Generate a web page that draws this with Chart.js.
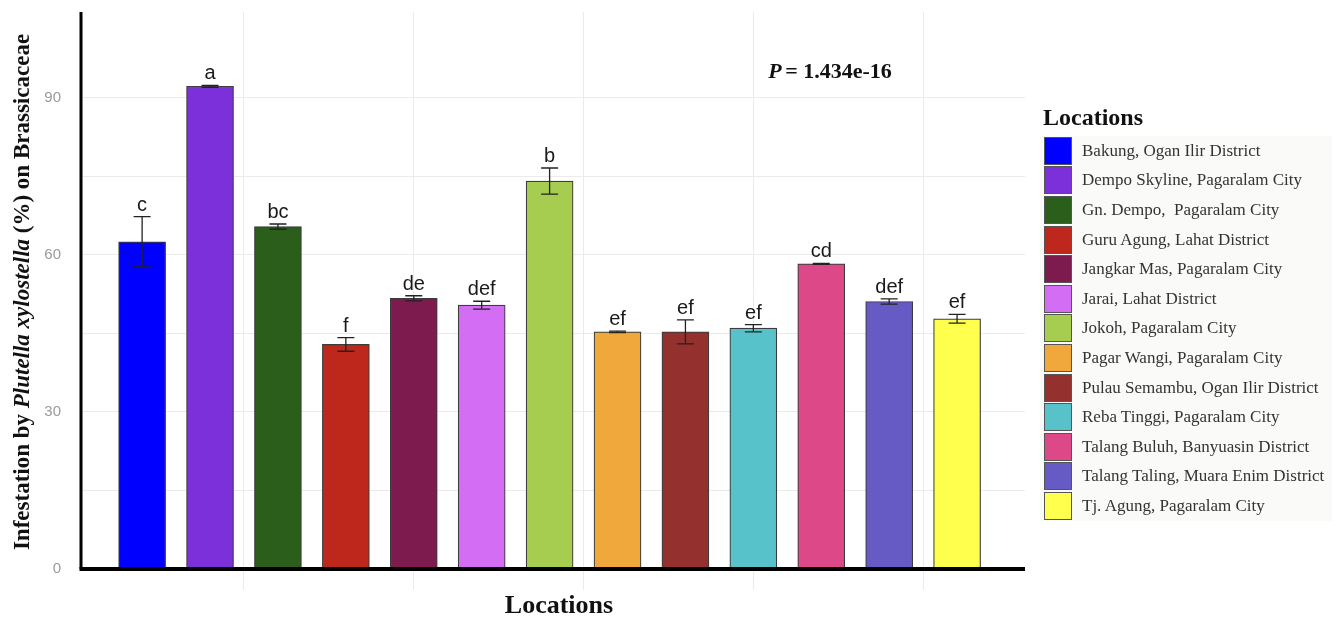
<!DOCTYPE html>
<html>
<head>
<meta charset="utf-8">
<script src="https://cdn.jsdelivr.net/npm/chart.js@4.4.0/dist/chart.umd.min.js"></script>
<style>
  html, body { margin: 0; padding: 0; background: #fff; }
  #wrap { position: relative; width: 1343px; height: 617px; }
  #legend { position: absolute; left: 1040px; top: 102px; font-family: "Liberation Serif", "Times New Roman", serif; color: #333; }
  #legend .ttl { font-weight: bold; font-size: 24px; color: #111; padding-left: 3px; height: 34px; line-height: 30px; }
  #legend .rows { background: #fafaf8; padding-right: 8px; }
  #legend .row { display: flex; align-items: center; height: 29.6px; }
  #legend .box { width: 26px; height: 26px; border: 1.5px solid #555; margin-left: 4px; margin-right: 10px; }
  #legend .lbl { font-size: 17px; white-space: pre; }
</style>
</head>
<body>
<div id="wrap">
  <canvas id="chart" width="1343" height="617"></canvas>
  <div id="legend"></div>
</div>
<script>
// values
const locations = [
  "Bakung, Ogan Ilir District",
  "Dempo Skyline, Pagaralam City",
  "Gn. Dempo,  Pagaralam City",
  "Guru Agung, Lahat District",
  "Jangkar Mas, Pagaralam City",
  "Jarai, Lahat District",
  "Jokoh, Pagaralam City",
  "Pagar Wangi, Pagaralam City",
  "Pulau Semambu, Ogan Ilir District",
  "Reba Tinggi, Pagaralam City",
  "Talang Buluh, Banyuasin District",
  "Talang Taling, Muara Enim District",
  "Tj. Agung, Pagaralam City"
];
const infestation = [62.5, 92.2, 65.4, 42.9, 51.7, 50.4, 74.1, 45.3, 45.3, 46.0, 58.3, 51.1, 47.8];
const stdErr = [4.8, 0.2, 0.5, 1.3, 0.5, 0.75, 2.5, 0.15, 2.3, 0.7, 0.1, 0.5, 0.85];
const groupLetters = ["c", "a", "bc", "f", "de", "def", "b", "ef", "ef", "ef", "cd", "def", "ef"];
const barColors = ["#0000fe", "#7b30d9", "#2b5e1b", "#bd271c", "#7d1a4e", "#d36df3", "#a6cc50",
                   "#f0a83c", "#94312e", "#58c2cb", "#dc4888", "#665bc4", "#ffff4e"];
const pValue = "1.434e-16";

// legend
const legend = document.getElementById("legend");
let html = '<div class="ttl">Locations</div><div class="rows">';
locations.forEach((name, i) => {
  html += '<div class="row"><div class="box" style="background:' + barColors[i] + '"></div><div class="lbl">' + name + '</div></div>';
});
legend.innerHTML = html + "</div>";

const serif = "'Liberation Serif', 'Times New Roman', serif";

const extras = {
  id: "extras",
  afterDatasetsDraw(chart) {
    const { ctx, chartArea } = chart;
    const xs = chart.scales.x, ys = chart.scales.y;
    ctx.save();
    // axis lines over the bar bases
    ctx.strokeStyle = "#000";
    ctx.lineWidth = 4;
    ctx.beginPath();
    ctx.moveTo(chartArea.left - 1.5, chartArea.bottom);
    ctx.lineTo(chartArea.right, chartArea.bottom);
    ctx.stroke();
    ctx.lineWidth = 3;
    ctx.beginPath();
    ctx.moveTo(chartArea.left, chartArea.top);
    ctx.lineTo(chartArea.left, chartArea.bottom);
    ctx.stroke();

    // error bars + letters
    ctx.strokeStyle = "#222";
    ctx.lineWidth = 1.3;
    ctx.fillStyle = "#1a1a1a";
    ctx.font = "20px 'Liberation Sans', Arial, sans-serif";
    ctx.textAlign = "center";
    ctx.textBaseline = "alphabetic";
    infestation.forEach((v, i) => {
      const x = xs.getPixelForValue(i + 1);
      const yt = ys.getPixelForValue(v + stdErr[i]);
      const yb = ys.getPixelForValue(v - stdErr[i]);
      ctx.beginPath();
      ctx.moveTo(x, yt); ctx.lineTo(x, yb);
      ctx.moveTo(x - 8.5, yt); ctx.lineTo(x + 8.5, yt);
      ctx.moveTo(x - 8.5, yb); ctx.lineTo(x + 8.5, yb);
      ctx.stroke();
      ctx.fillText(groupLetters[i], x, yt - 6);
    });

    // P value
    ctx.fillStyle = "#111";
    ctx.textAlign = "left";
    ctx.textBaseline = "middle";
    const px = xs.getPixelForValue(10.22), py = ys.getPixelForValue(94.8);
    ctx.font = "italic bold 22px " + serif;
    ctx.fillText("P", px, py);
    const pw = ctx.measureText("P").width;
    ctx.font = "bold 22px " + serif;
    ctx.fillText(" = " + pValue, px + pw - 2, py);

    // axis titles
    ctx.textAlign = "center";
    ctx.font = "bold 26px " + serif;
    ctx.fillText("Locations", (chartArea.left + chartArea.right) / 2 + 6, 606);

    const segs = [["Infestation by ", "bold"], ["Plutella xylostella", "italic bold"], [" (%) on Brassicaceae", "bold"]];
    let total = 0;
    segs.forEach(s => { ctx.font = s[1] + " 23px " + serif; s.push(ctx.measureText(s[0]).width); total += s[2]; });
    ctx.translate(23, 292);
    ctx.rotate(-Math.PI / 2);
    ctx.textAlign = "left";
    let cx = -total / 2;
    segs.forEach(s => { ctx.font = s[1] + " 23px " + serif; ctx.fillText(s[0], cx, 0); cx += s[2]; });
    ctx.restore();
  }
};

new Chart(document.getElementById("chart"), {
  type: "bar",
  data: {
    datasets: [{
      data: infestation.map((v, i) => ({ x: i + 1, y: v })),
      backgroundColor: barColors,
      borderColor: "#3c3c3c",
      borderWidth: 1.2,
      barThickness: 47
    }]
  },
  options: {
    responsive: false,
    animation: false,
    layout: { padding: { top: 12, right: 318, bottom: 27, left: 0 } },
    plugins: { legend: { display: false }, tooltip: { enabled: false } },
    scales: {
      x: {
        type: "linear",
        offset: false,
        min: 0.1,
        max: 14,
        ticks: { display: false, stepSize: 2.5 },
        grid: {
          offset: false,
          color: c => {
            const v = c.tick ? c.tick.value : 0;
            return (v > 1 && v < 13.9 && Math.abs(v / 2.5 - Math.round(v / 2.5)) < 1e-6) ? "#ebebeb" : "rgba(0,0,0,0)";
          },
          lineWidth: 1,
          tickLength: 21
        },
        border: { display: false }
      },
      y: {
        min: 0,
        max: 106.4,
        afterFit: s => { s.width = 81; s.paddingTop = 0; s.paddingBottom = 0; },
        ticks: {
          stepSize: 15,
          callback: v => (v % 30 === 0 ? v : ""),
          color: "#9a9a9a",
          font: { size: 15, family: "'Liberation Sans', Arial, sans-serif" },
          padding: 20
        },
        grid: {
          color: c => (c.tick && c.tick.value % 15 === 0 && c.tick.value > 0) ? "#ebebeb" : "rgba(0,0,0,0)",
          drawTicks: false
        },
        border: { display: false }
      }
    }
  },
  plugins: [extras]
});
</script>
</body>
</html>
